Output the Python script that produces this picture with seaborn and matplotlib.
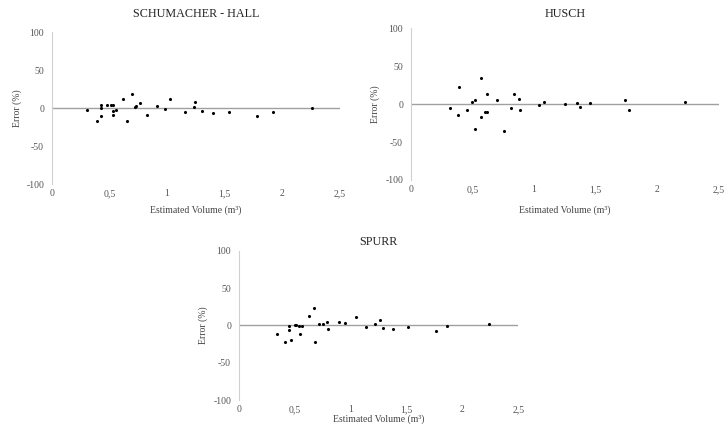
import matplotlib
matplotlib.use("Agg")
import matplotlib.pyplot as plt
import seaborn as sns
import pandas as pd

# estimated volume (m3) and error (%)
schumacher_vol = [0.31, 0.39, 0.43, 0.43, 0.43, 0.48, 0.51, 0.53, 0.53, 0.53, 0.56, 0.62,
                  0.65, 0.70, 0.72, 0.73, 0.77, 0.83, 0.91, 0.98, 1.03, 1.16, 1.23, 1.24,
                  1.30, 1.40, 1.54, 1.78, 1.92, 2.26]
schumacher_err = [-3, -17.5, 4, -0.5, -10, 4.5, 4, 4, -4.5, -9, -2, 12.5,
                  -17, 18.5, 1.5, 3, 6.5, -9, 2.5, -1, 12.5, -5, 1, 8.5,
                  -4.5, -7, -5.5, -10, -5.5, -0.5]

husch_vol = [0.32, 0.38, 0.39, 0.46, 0.50, 0.52, 0.52, 0.57, 0.57, 0.60, 0.62, 0.62,
             0.70, 0.76, 0.81, 0.84, 0.88, 0.89, 1.04, 1.08, 1.25, 1.35, 1.37, 1.45,
             1.74, 1.77, 2.22]
husch_err = [-4.5, -14.5, 23, -7.5, 2.5, 6, -33, 35, -16.5, -11, -11, 14,
             5, -35.5, -4.5, 14, 6.5, -7.5, -0.5, 2.5, 0, 1, -4, 1.5,
             5, -7.5, 2.5]

spurr_vol = [0.34, 0.41, 0.45, 0.45, 0.47, 0.50, 0.51, 0.54, 0.55, 0.57, 0.63, 0.67,
             0.68, 0.72, 0.75, 0.79, 0.80, 0.90, 0.95, 1.05, 1.14, 1.22, 1.26, 1.29,
             1.38, 1.51, 1.76, 1.86, 2.24]
spurr_err = [-11.5, -22.5, -1.5, -6.5, -19, 1, 0, -1.5, -12, -1.5, 12, 23,
             -22, 2.5, 1.5, 4, -4.5, 4.5, 3.5, 11, -2, 2, 7.5, -3.5,
             -4.5, -2, -7.5, -1.5, 1.5]

xticks = [0, 0.5, 1, 1.5, 2, 2.5]
xtick_labels = ["0", "0,5", "1", "1,5", "2", "2,5"]
yticks = [-100, -50, 0, 50, 100]

sns.set_style("white")
plt.rcParams['font.family'] = ['Liberation Serif', 'DejaVu Serif']
plt.rcParams['axes.unicode_minus'] = False

fig = plt.figure(figsize=(7.25, 4.34), dpi=100)

panels = [
    ("SCHUMACHER - HALL", schumacher_vol, schumacher_err, [0.0713, 0.576, 0.3977, 0.350], 14, 17, 210),
    ("HUSCH", husch_vol, husch_err, [0.5665, 0.5853, 0.4253, 0.3495], 14, 375, 210),
    ("SPURR", spurr_vol, spurr_err, [0.3292, 0.0783, 0.3857, 0.344], 242, 203, 419),
]

for title, vol, err, rect, title_y, ylab_x, xlab_y in panels:
    ax = fig.add_axes(rect)
    df = pd.DataFrame({"vol": vol, "err": err})
    ax.axhline(0, color="#a0a0a0", lw=1, zorder=1)
    sns.scatterplot(data=df, x="vol", y="err", ax=ax, color="black", marker="o",
                    s=5, linewidth=0, zorder=3)
    ax.set_xlim(0, 2.5)
    ax.set_ylim(-100, 100)
    ax.set_xticks(xticks)
    ax.set_xticklabels(xtick_labels)
    ax.set_yticks(yticks)
    ax.set_xlabel("")
    ax.set_ylabel("")
    ax.tick_params(axis="x", length=0, pad=3.5, labelsize=7, labelcolor="#555555")
    ax.tick_params(axis="y", length=0, pad=5.5, labelsize=7, labelcolor="#555555")
    for side in ["top", "right", "bottom"]:
        ax.spines[side].set_visible(False)
    ax.spines["left"].set_color("#d0d0d0")
    ax.spines["left"].set_linewidth(0.8)

    cx = (rect[0] + rect[2] / 2)
    fig.text(cx, 1 - title_y / 434, title, ha="center", va="center", fontsize=8.7, color="#222222")
    fig.text(cx, 1 - xlab_y / 434, "Estimated Volume (m³)", ha="center", va="center",
             fontsize=7, color="#444444")
    fig.text(ylab_x / 725, rect[1] + rect[3] / 2, "Error (%)", ha="center", va="center",
             rotation=90, fontsize=7, color="#444444")

plt.savefig("out.png", dpi=100)
